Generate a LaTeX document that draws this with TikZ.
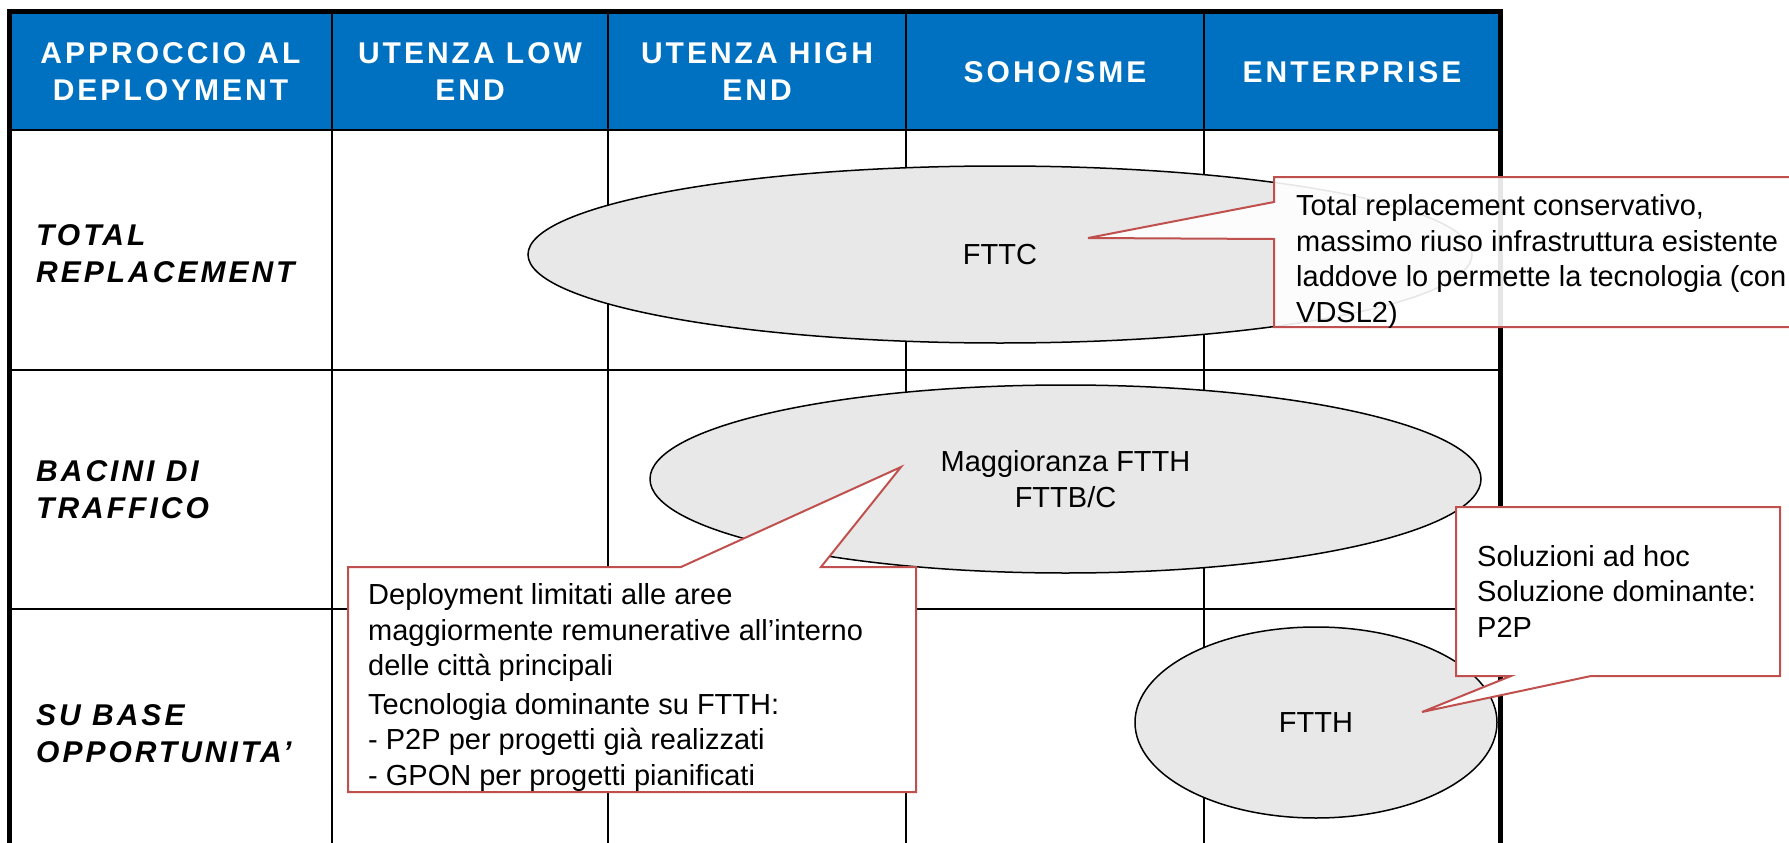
\documentclass[tikz,border=0pt]{standalone}
\usepackage{fontspec}
\setmainfont{Liberation Sans}
\newfontfamily\spacedfont[LetterSpace=10]{Liberation Sans}
\usetikzlibrary{shapes.geometric}
\definecolor{hdblue}{RGB}{0,112,192}
\definecolor{ellgray}{RGB}{232,232,232}
\definecolor{callred}{RGB}{192,80,77}
\begin{document}
\begin{tikzpicture}[x=1pt,y=-1pt,
  hdtext/.style={text=white, inner sep=0, align=center,
    font=\spacedfont\fontsize{30}{37}\selectfont\bfseries},
  rowlbl/.style={inner sep=0, align=left, anchor=base west,
    font=\spacedfont\fontsize{30}{37}\selectfont\bfseries\itshape},
  ellnode/.style={ellipse, draw=black, line width=1.5, fill=ellgray, inner sep=0,
    font=\fontsize{29}{35.5}\selectfont, align=center},
  calltext/.style={inner sep=0, align=left, anchor=base west,
    font=\fontsize{29}{35.5}\selectfont},
  callout/.style={draw=callred, line width=2, fill=white, line join=miter},
  innerline/.style={line width=2.5, black},
  outerline/.style={line width=5, black}
]
\useasboundingbox (0,0) rectangle (1789,843);
\clip (0,0) rectangle (1789,843);
\fill[white] (0,0) rectangle (1789,843);

% table
\fill[hdblue] (9,12) rectangle (1500,130);
\foreach \x in {332,608,906,1204} \draw[innerline] (\x,12) -- (\x,870);
\foreach \y in {130,370,609} \draw[innerline] (9,\y) -- (1500,\y);
\draw[outerline] (9,12) rectangle (1500,870);

% header
\node[hdtext] (h1) at (170.5,72) {APPROCCIO AL\\DEPLOYMENT};
\node[hdtext] (h2) at (470,72) {UTENZA LOW\\END};
\node[hdtext] (h3) at (757,72) {UTENZA HIGH\\END};
\node[hdtext] (h4) at (1055,72) {SOHO/SME};
\node[hdtext] (h5) at (1352,72) {ENTERPRISE};

% row labels (anchored at the baseline of the last line)
\node[rowlbl] (r1) at (36,282) {TOTAL\\REPLACEMENT};
\node[rowlbl] (r2) at (36,518) {BACINI DI\\TRAFFICO};
\node[rowlbl] (r3) at (36,762) {SU BASE\\OPPORTUNITA’};

% ellipses
\node[ellnode, minimum width=944, minimum height=177] (e1) at (1000,254.5) {FTTC};
\node[ellnode, minimum width=831, minimum height=188] (e2) at (1065.5,479) {Maggioranza FTTH\\FTTB/C};
\node[ellnode, minimum width=362, minimum height=191] (e3) at (1316,722.5) {FTTH};

% callout 1
\draw[callout, fill opacity=0.9] (1274,177) -- (1800,177) -- (1800,327) -- (1274,327)
  -- (1274,239) -- (1088,238) -- (1274,202) -- cycle;
\node[calltext] (c1) at (1296,322) {Total replacement conservativo,\\massimo riuso infrastruttura esistente\\laddove lo permette la tecnologia (con\\VDSL2)};

% callout 2
\draw[callout] (348,567) -- (681,567) -- (901,467) -- (821,567) -- (916,567)
  -- (916,792) -- (348,792) -- cycle;
\node[calltext] (c2) at (368,785) {Deployment limitati alle aree\\maggiormente remunerative all’interno\\delle città principali\\[3pt]Tecnologia dominante su FTTH:\\- P2P per progetti già realizzati\\- GPON per progetti pianificati};

% callout 3
\draw[callout] (1456,507) -- (1780,507) -- (1780,676) -- (1591,676) -- (1422,712)
  -- (1511,676) -- (1456,676) -- cycle;
\node[calltext] (c3) at (1477,637) {Soluzioni ad hoc\\Soluzione dominante:\\P2P};
\end{tikzpicture}
\end{document}
